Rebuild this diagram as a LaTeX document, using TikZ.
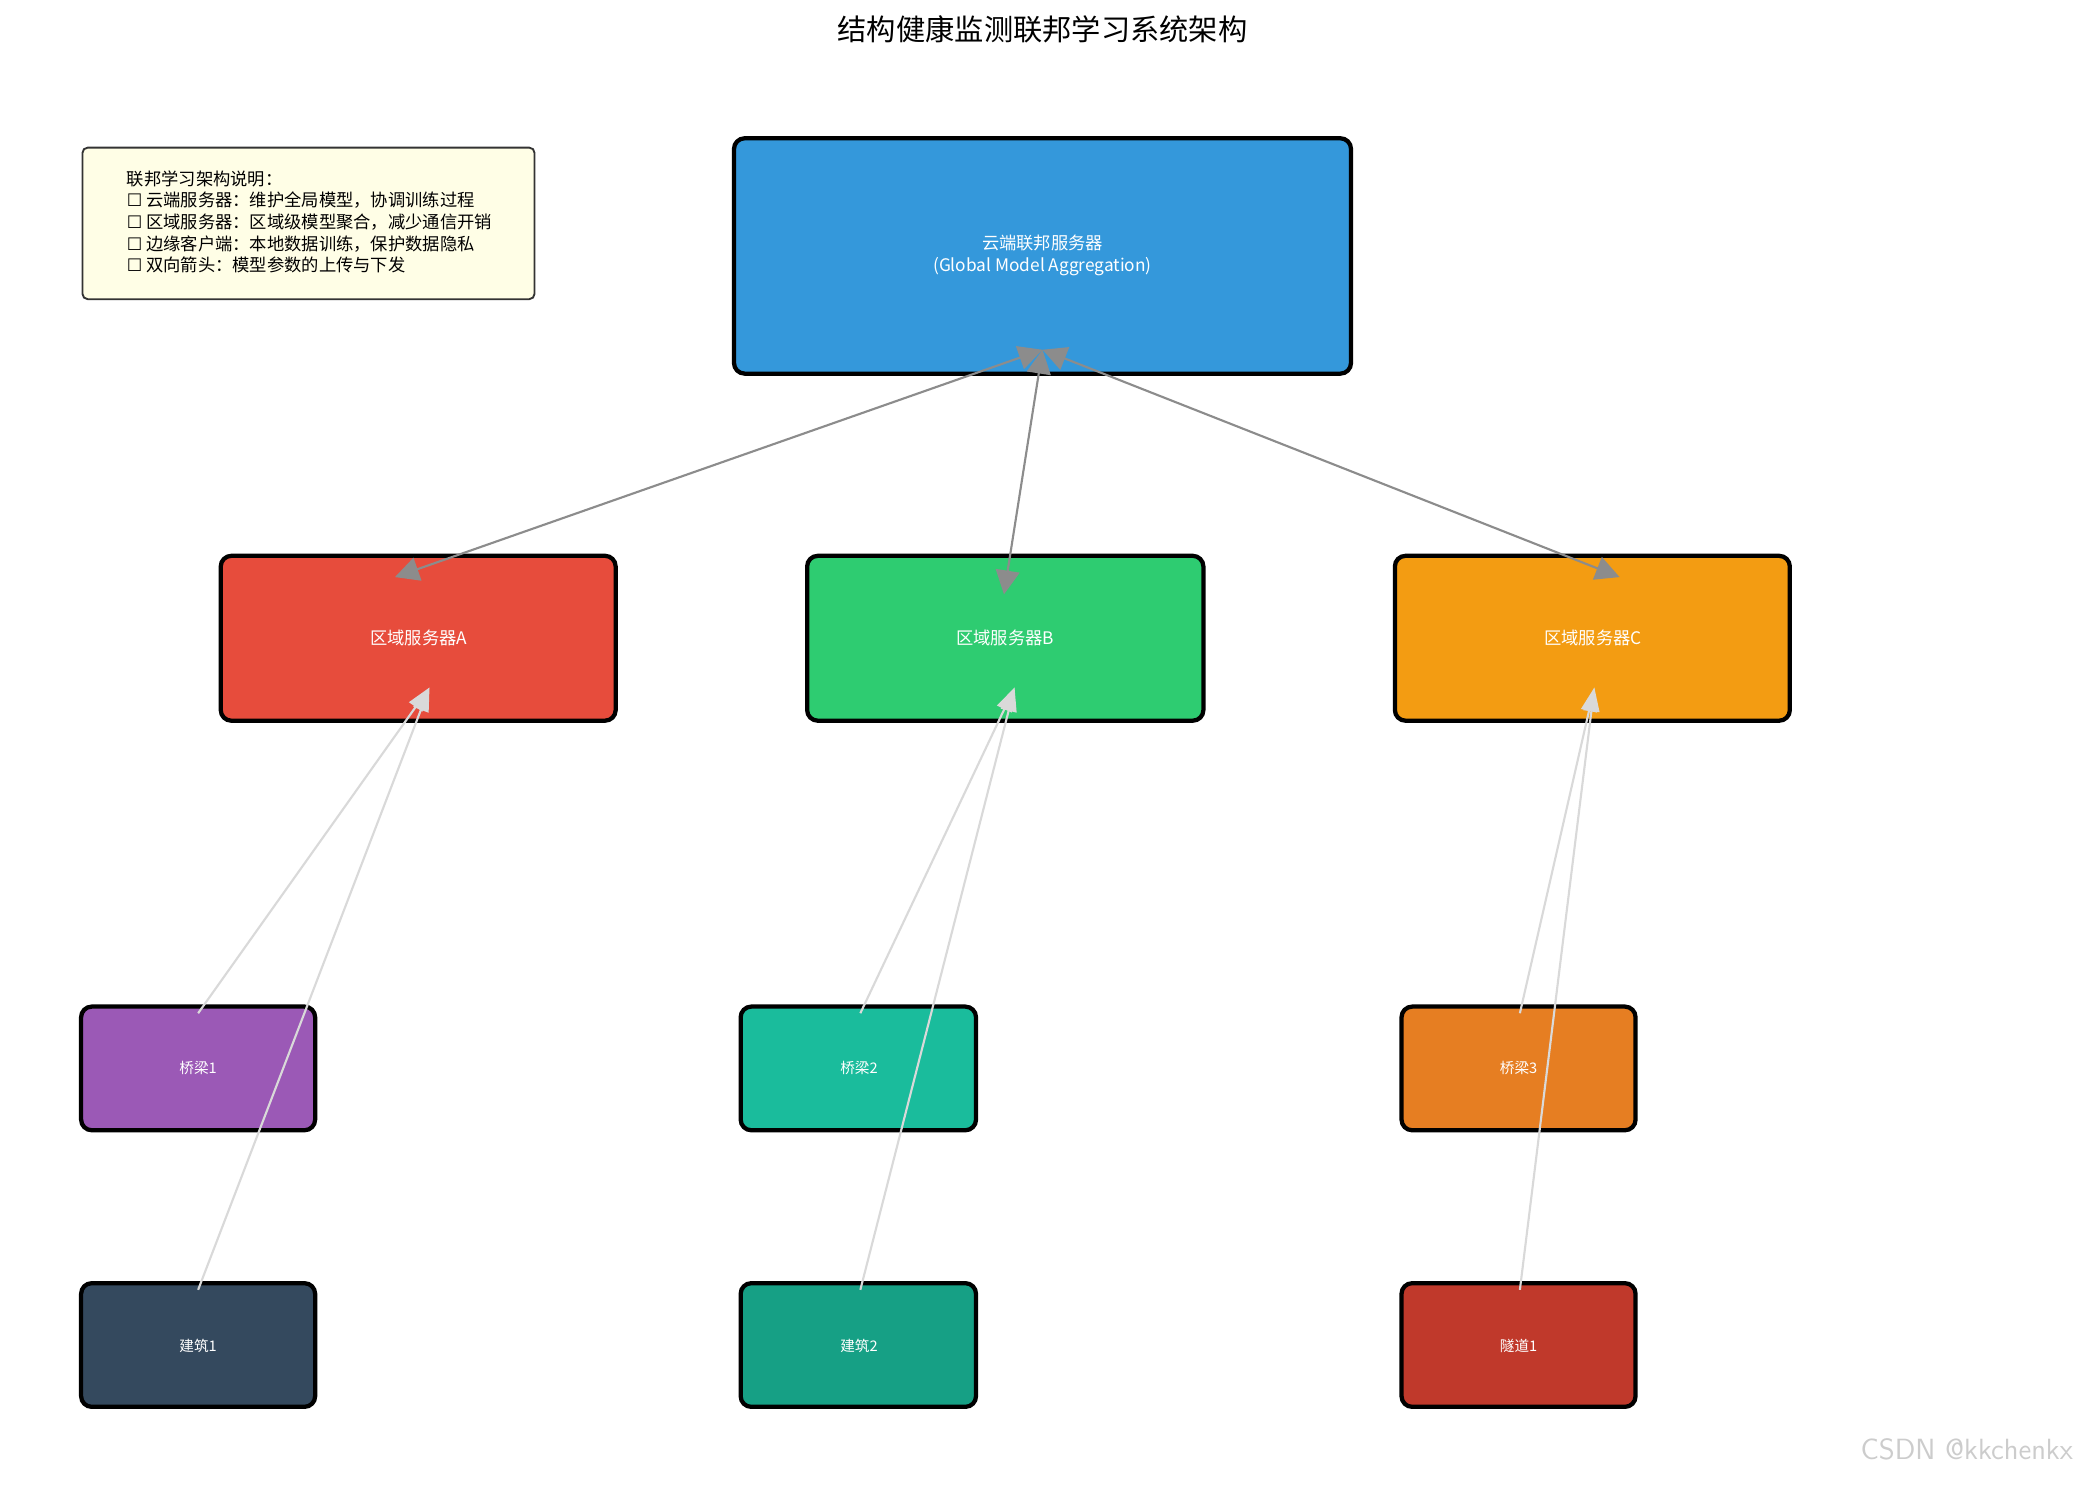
\documentclass[tikz,border=0pt]{standalone}
\usepackage{fontspec}
\setmainfont{Noto Sans CJK SC}
\newfontfamily\dejavu{DejaVu Sans}
\newcommand{\cbox}{{\dejavu ☐}}
\usetikzlibrary{arrows.meta}
\begin{document}
\begin{tikzpicture}[x=0.5pt,y=-0.5pt,
  box/.style={draw=black,line width=1.6pt,rounded corners=4pt,inner sep=0pt},
  lbl/.style={text=white,font=\fontsize{6.5}{8}\selectfont,align=center},
  slbl/.style={text=white,font=\fontsize{5.5}{7}\selectfont},
  up/.style={draw=gray!90,line width=0.8pt,{Triangle[length=9pt,width=9pt]}-{Triangle[length=9pt,width=9pt]}},
  edge/.style={draw=gray!30,line width=0.8pt,-{Triangle[length=9pt,width=6pt]}}]
\useasboundingbox (0,0) rectangle (1568,1117);
\node[font=\fontsize{11}{13}\selectfont] (title) at (784,22) {结构健康监测联邦学习系统架构};
% legend
\draw[draw=black!80,fill=yellow!10,rounded corners=2pt,line width=0.7pt] (62,111) rectangle (402,225);
\node[anchor=north west,align=left,font=\fontsize{6.5}{8.1}\selectfont,inner sep=0pt] (legend) at (95,128) {联邦学习架构说明：\\\cbox{} 云端服务器：维护全局模型，协调训练过程\\\cbox{} 区域服务器：区域级模型聚合，减少通信开销\\\cbox{} 边缘客户端：本地数据训练，保护数据隐私\\\cbox{} 双向箭头：模型参数的上传与下发};
% boxes
\filldraw[box,fill={rgb,255:red,52;green,152;blue,219}] (552,104) rectangle (1016,281);
\node[lbl] (cloud) at (784,192) {云端联邦服务器\\(Global Model Aggregation)};
\filldraw[box,fill={rgb,255:red,231;green,76;blue,60}] (166,418) rectangle (463,542);
\node[lbl] (A) at (315,480) {区域服务器A};
\filldraw[box,fill={rgb,255:red,46;green,204;blue,113}] (607,418) rectangle (905,542);
\node[lbl] (B) at (756,480) {区域服务器B};
\filldraw[box,fill={rgb,255:red,243;green,156;blue,18}] (1049,418) rectangle (1346,542);
\node[lbl] (C) at (1198,480) {区域服务器C};
\filldraw[box,fill={rgb,255:red,155;green,89;blue,182}] (61,757) rectangle (237,850);
\node[slbl] (b1) at (149,803) {桥梁1};
\filldraw[box,fill={rgb,255:red,26;green,188;blue,156}] (557,757) rectangle (734,850);
\node[slbl] (b2) at (646,803) {桥梁2};
\filldraw[box,fill={rgb,255:red,230;green,126;blue,34}] (1054,757) rectangle (1230,850);
\node[slbl] (b3) at (1142,803) {桥梁3};
\filldraw[box,fill={rgb,255:red,52;green,73;blue,94}] (61,965) rectangle (237,1058);
\node[slbl] (h1) at (149,1012) {建筑1};
\filldraw[box,fill={rgb,255:red,22;green,160;blue,133}] (557,965) rectangle (734,1058);
\node[slbl] (h2) at (646,1012) {建筑2};
\filldraw[box,fill={rgb,255:red,192;green,57;blue,43}] (1054,965) rectangle (1230,1058);
\node[slbl] (t1) at (1142,1012) {隧道1};
% anchor points
\coordinate (cT) at (784,263);
\coordinate (aT) at (297,434);
\coordinate (bT) at (755,447);
\coordinate (cCT) at (1218,434);
\coordinate (aB) at (323,517);
\coordinate (bB) at (763,517);
\coordinate (cB) at (1199,517);
\coordinate (b1s) at (149,762);
\coordinate (h1s) at (149,970);
\coordinate (b2s) at (647,762);
\coordinate (h2s) at (647,970);
\coordinate (b3s) at (1143,762);
\coordinate (t1s) at (1143,970);
\draw[up] (cT) -- (aT);
\draw[up] (cT) -- (bT);
\draw[up] (cT) -- (cCT);
\draw[edge] (b1s) -- (aB);
\draw[edge] (h1s) -- (aB);
\draw[edge] (b2s) -- (bB);
\draw[edge] (h2s) -- (bB);
\draw[edge] (b3s) -- (cB);
\draw[edge] (t1s) -- (cB);
\node[anchor=east,text=gray!40,font=\fontsize{11}{13}\selectfont\sffamily] (wm) at (1566,1090) {CSDN @kkchenkx};
\end{tikzpicture}
\end{document}
